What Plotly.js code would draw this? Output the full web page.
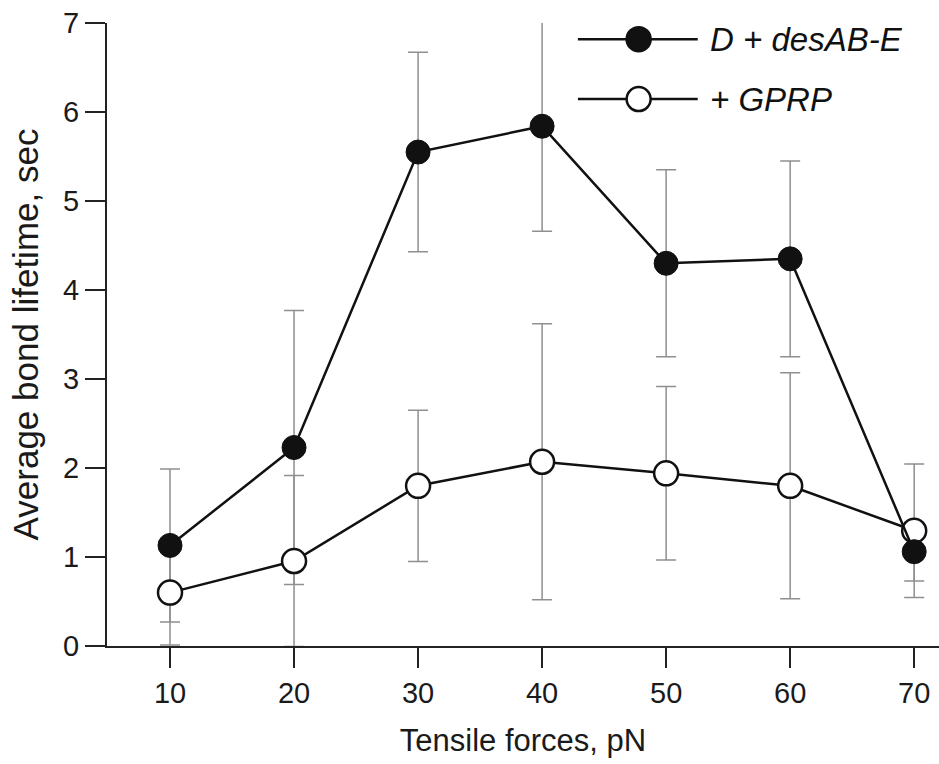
<!DOCTYPE html>
<html>
<head>
<meta charset="utf-8">
<script src="https://cdn.plot.ly/plotly-3.0.1.min.js"></script>
<style>html,body{margin:0;padding:0;background:#fff;}#chart{width:939px;height:764px;}</style>
</head>
<body>
<div id="chart"></div>
<script>
// Data
const forces = [10, 20, 30, 40, 50, 60, 70];
const desABE = [1.13, 2.23, 5.55, 5.84, 4.30, 4.35, 1.06];
const desABEErr = [0.86, 1.54, 1.12, 1.18, 1.05, 1.10, 0.33];
const gprp = [0.60, 0.955, 1.80, 2.07, 1.94, 1.80, 1.295];
const gprpErr = [0.59, 0.96, 0.85, 1.55, 0.975, 1.27, 0.75];
const seriesNames = ['D + desAB-E', '+ GPRP'];
const xTickVals = [10, 20, 30, 40, 50, 60, 70];
const yTickVals = [0, 1, 2, 3, 4, 5, 6, 7];

const FONT = 'Liberation Sans, Arial, sans-serif';
const errStyle = {type: 'data', visible: true, thickness: 1.5, width: 10, color: '#8f8f8f'};

const traces = [
  // error bars first so that all markers sit on top of them
  {x: forces, y: desABE, mode: 'markers', marker: {size: 1, color: 'rgba(0,0,0,0)'},
   error_y: Object.assign({array: desABEErr}, errStyle), showlegend: false, hoverinfo: 'skip'},
  {x: forces, y: gprp, mode: 'markers', marker: {size: 1, color: 'rgba(0,0,0,0)'},
   error_y: Object.assign({array: gprpErr}, errStyle), showlegend: false, hoverinfo: 'skip'},
  {x: forces, y: gprp, name: seriesNames[1], mode: 'lines+markers',
   line: {color: '#111', width: 2.5},
   marker: {symbol: 'circle', size: 24, color: '#fff', line: {color: '#111', width: 2.5}},
   showlegend: false},
  {x: forces, y: desABE, name: seriesNames[0], mode: 'lines+markers',
   line: {color: '#111', width: 2.5},
   marker: {symbol: 'circle', size: 24, color: '#111', line: {color: '#111', width: 1}},
   showlegend: false}
];

// Legend drawn to mimic the reference (long line with a centred marker)
const legX0 = 0.566, legX1 = 0.710, legXm = 0.639, legTx = 0.722;
const legY = [0.974, 0.878];
const shapes = [];
const annotations = [];
[0, 1].forEach(i => {
  shapes.push({type: 'line', xref: 'paper', yref: 'paper', x0: legX0, x1: legX1, y0: legY[i], y1: legY[i],
    line: {color: '#111', width: 2.5}});
  shapes.push({type: 'circle', xref: 'paper', yref: 'paper', xsizemode: 'pixel', ysizemode: 'pixel',
    xanchor: legXm, yanchor: legY[i], x0: -12, x1: 12, y0: -12, y1: 12,
    fillcolor: i === 0 ? '#111' : '#fff', line: {color: '#111', width: 2.5}});
  annotations.push({xref: 'paper', yref: 'paper', x: legTx, y: legY[i], xanchor: 'left', yanchor: 'middle',
    text: '<i>' + seriesNames[i] + '</i>', showarrow: false,
    font: {family: FONT, size: 33, color: '#111'}});
});

const layout = {
  width: 939, height: 764,
  margin: {l: 107, r: 0, t: 23, b: 118},
  paper_bgcolor: '#fff', plot_bgcolor: '#fff',
  font: {family: FONT, color: '#1a1a1a'},
  showlegend: false,
  xaxis: {
    range: [4.92, 72], tickvals: xTickVals, ticktext: xTickVals.map(String),
    ticks: 'outside', ticklen: 20, tickwidth: 2, tickcolor: '#222',
    showline: true, linecolor: '#222', linewidth: 2, showgrid: false, zeroline: false,
    tickfont: {family: FONT, size: 29, color: '#1a1a1a'},
    title: {text: 'Tensile forces, pN', font: {family: FONT, size: 31, color: '#1a1a1a'}, standoff: 22}
  },
  yaxis: {
    range: [0, 7], tickvals: yTickVals, ticktext: yTickVals.map(String),
    ticks: 'outside', ticklen: 20, tickwidth: 2, tickcolor: '#222',
    showline: true, linecolor: '#222', linewidth: 2, showgrid: false, zeroline: false,
    tickfont: {family: FONT, size: 29, color: '#1a1a1a'},
    title: {text: 'Average bond lifetime, sec', font: {family: FONT, size: 35, color: '#1a1a1a'}, standoff: 14}
  },
  shapes: shapes,
  annotations: annotations
};

Plotly.newPlot('chart', traces, layout, {displayModeBar: false, staticPlot: true});
</script>
</body>
</html>
